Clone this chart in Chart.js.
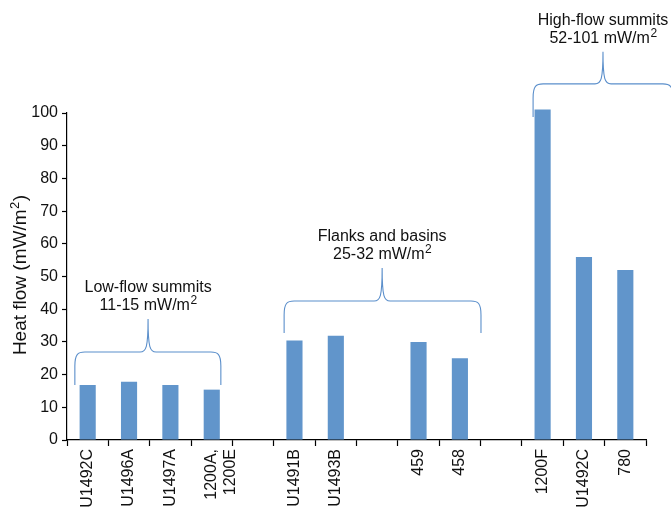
<!DOCTYPE html>
<html>
<head>
<meta charset="utf-8">
<script src="https://cdn.jsdelivr.net/npm/chart.js@4"></script>
<style>
  html, body { margin: 0; padding: 0; background: #fff; }
  #wrap { width: 671px; height: 508px; }
</style>
</head>
<body>
<div id="wrap"><canvas id="c" width="671" height="508"></canvas></div>
<script>
// Sites (empty strings separate the three groups)
const sites = ['U1492C', 'U1496A', 'U1497A', ['1200A,', '1200E'], '',
               'U1491B', 'U1493B', '', '459', '458', '',
               '1200F', 'U1492C', '780'];
// Heat flow, mW/m2
const heatFlow = [16.8, 17.8, 16.8, 15.4, null,
                  30.4, 31.9, null, 30.0, 25.0, null,
                  101.1, 56.0, 52.0];
const yTicks = [0, 10, 20, 30, 40, 50, 60, 70, 80, 90, 100];
const yTitle = 'Heat flow (mW/m';

// Groups bracketed above the bars
const groupNames  = ['Low-flow summits', 'Flanks and basins', 'High-flow summits'];
const groupRanges = ['11-15', '25-32', '52-101'];
// bracket extent in category units, and levels in mW/m2
const groupFrom   = [-0.31, 4.75, 10.77];
const groupTo     = [3.22, 9.51, 14.15];
const groupMid    = [1.46, 7.12, 12.46];
const groupFoot   = [16.8, 32.7, 98.8];
const groupLevel  = [26.9, 42.5, 108.9];
const groupPeak   = [37.0, 52.6, 118.7];

const FONT = "'Liberation Sans', Arial, Helvetica, sans-serif";
const TEXT_COLOR = '#111';
const BRACE_COLOR = '#5b8fcb';

function drawSuperUnit(ctx, text, cx, cy) {
  // "<text> mW/m" followed by a raised 2
  const main = text + ' mW/m';
  ctx.font = '16px ' + FONT;
  const w1 = ctx.measureText(main).width;
  ctx.font = '12px ' + FONT;
  const w2 = ctx.measureText('2').width;
  const x0 = cx - (w1 + w2) / 2;
  ctx.textAlign = 'left';
  ctx.textBaseline = 'middle';
  ctx.font = '16px ' + FONT;
  ctx.fillText(main, x0, cy);
  ctx.font = '12px ' + FONT;
  ctx.fillText('2', x0 + w1 + 0.5, cy - 5);
}

const bracePlugin = {
  id: 'groupBraces',
  afterDraw(chart) {
    const ctx = chart.ctx;
    const xs = chart.scales.x, ys = chart.scales.y;
    ctx.save();
    for (let i = 0; i < groupNames.length; i++) {
      const xl = xs.getPixelForValue(groupFrom[i]);
      const xr = xs.getPixelForValue(groupTo[i]);
      const xc = xs.getPixelForValue(groupMid[i]);
      const yf = ys.getPixelForValue(groupFoot[i]);
      const yh = ys.getPixelForValue(groupLevel[i]);
      const yp = ys.getPixelForValue(groupPeak[i]);
      const r = 10;
      ctx.beginPath();
      ctx.strokeStyle = BRACE_COLOR;
      ctx.lineWidth = 1.1;
      ctx.moveTo(xl, yf);
      ctx.lineTo(xl, yh + r + 4);
      ctx.bezierCurveTo(xl, yh + 2, xl + 3, yh, xl + r, yh);
      ctx.lineTo(xc - 8, yh);
      ctx.bezierCurveTo(xc - 2, yh, xc, yh - 4, xc, yp);
      ctx.bezierCurveTo(xc, yh - 4, xc + 2, yh, xc + 8, yh);
      ctx.lineTo(xr - r, yh);
      ctx.bezierCurveTo(xr - 3, yh, xr, yh + 2, xr, yh + r + 4);
      ctx.lineTo(xr, yf);
      ctx.stroke();

      ctx.fillStyle = TEXT_COLOR;
      ctx.font = '16px ' + FONT;
      ctx.textAlign = 'center';
      ctx.textBaseline = 'middle';
      ctx.fillText(groupNames[i], xc, yp - 31);
      drawSuperUnit(ctx, groupRanges[i], xc, yp - 13);
    }

    // vertical axis title with a raised 2
    const cy = (ys.top + ys.bottom) / 2 - 1;
    ctx.translate(21, cy);
    ctx.rotate(-Math.PI / 2);
    ctx.fillStyle = TEXT_COLOR;
    ctx.font = '19px ' + FONT;
    const w1 = ctx.measureText(yTitle).width;
    ctx.font = '13px ' + FONT;
    const w2 = ctx.measureText('2').width;
    ctx.font = '19px ' + FONT;
    const w3 = ctx.measureText(')').width;
    const x0 = -(w1 + w2 + w3) / 2;
    ctx.textAlign = 'left';
    ctx.textBaseline = 'middle';
    ctx.fillText(yTitle, x0, 0);
    ctx.font = '13px ' + FONT;
    ctx.fillText('2', x0 + w1 + 0.5, -6);
    ctx.font = '19px ' + FONT;
    ctx.fillText(')', x0 + w1 + w2 + 1, 0);
    ctx.restore();
  }
};

new Chart(document.getElementById('c'), {
  type: 'bar',
  data: {
    labels: sites,
    datasets: [{
      data: heatFlow,
      backgroundColor: '#6195cb',
      borderWidth: 0,
      barPercentage: 0.39,
      categoryPercentage: 1.0,
      clip: false
    }]
  },
  options: {
    responsive: false,
    animation: false,
    devicePixelRatio: 1,
    layout: { padding: { top: 113, right: 25, left: 0, bottom: 0 } },
    plugins: {
      legend: { display: false },
      tooltip: { enabled: false }
    },
    scales: {
      x: {
        offset: true,
        border: { display: true, color: '#000', width: 1.2 },
        grid: { display: true, drawOnChartArea: false, offset: true, color: '#000', tickLength: 6, tickWidth: 1.2 },
        ticks: {
          color: TEXT_COLOR,
          font: { family: FONT, size: 16 },
          maxRotation: 90, minRotation: 90,
          autoSkip: false,
          padding: 3
        },
        afterFit(s) { s.height = 68; }
      },
      y: {
        min: 0, max: 100,
        afterBuildTicks(s) { s.ticks = yTicks.map(v => ({ value: v })); },
        border: { display: true, color: '#000', width: 1.2 },
        grid: { display: true, drawOnChartArea: false, color: '#000', tickLength: 5, tickWidth: 1.2 },
        ticks: {
          color: TEXT_COLOR,
          font: { family: FONT, size: 16 },
          padding: 4
        },
        afterFit(s) { s.width = 67; }
      }
    }
  },
  plugins: [bracePlugin]
});
</script>
</body>
</html>
